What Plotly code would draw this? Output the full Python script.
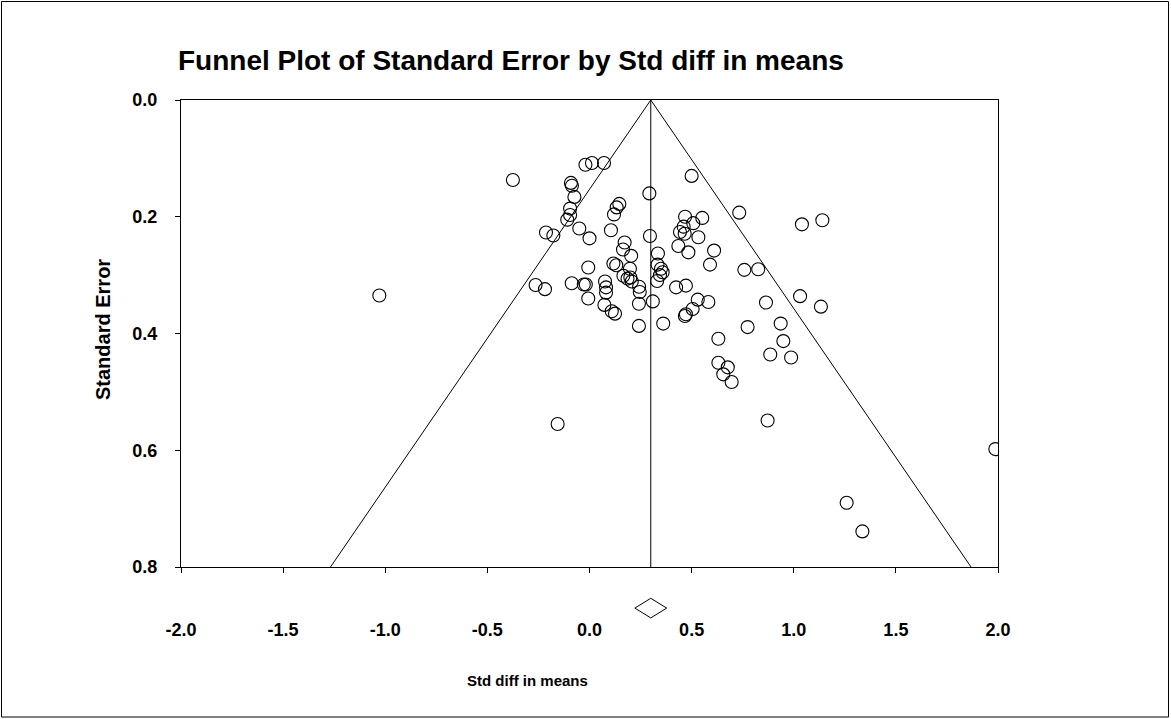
import plotly.graph_objects as go

# ---- data ----
std_diff = [
    -0.375, -0.020, 0.012, 0.071, -0.091, -0.086, -0.074, -0.095, -0.095, -0.109,
    -0.050, 0.000, -0.213, -0.177, 0.146, 0.133, 0.120, 0.105, 0.293, 0.296,
    0.500, 0.172, 0.164, 0.204, 0.117, 0.131, 0.198, 0.166, 0.186, 0.200,
    0.207, -0.006, -0.087, -0.028, -0.018, 0.076, 0.081, 0.081, -0.006, 0.073,
    0.109, 0.125, 0.243, 0.246, 0.242, 0.310, 0.242, 0.361, 0.335, 0.333,
    0.350, 0.358, 0.345, 0.331, 0.424, 0.472, 0.468, 0.552, 0.508, 0.461,
    0.443, 0.466, 0.533, 0.435, 0.484, 0.610, 0.590, 0.733, 1.040, 1.140,
    0.758, 0.826, 0.530, 0.582, 0.505, 0.472, 0.467, 0.631, 0.774, 0.864,
    0.936, 0.949, 1.031, 1.133, 0.885, 0.987, 0.631, 0.677, 0.655, 0.696,
    0.872, 1.259, 1.336, 1.987, -1.029, -0.156, -0.264, -0.218,
]
std_err = [
    0.137, 0.111, 0.108, 0.108, 0.142, 0.147, 0.166, 0.186, 0.197, 0.205,
    0.220, 0.237, 0.227, 0.232, 0.178, 0.184, 0.196, 0.223, 0.160, 0.233,
    0.130, 0.244, 0.256, 0.267, 0.280, 0.283, 0.289, 0.301, 0.306, 0.304,
    0.311, 0.287, 0.314, 0.316, 0.316, 0.311, 0.321, 0.330, 0.340, 0.351,
    0.362, 0.366, 0.320, 0.329, 0.349, 0.345, 0.387, 0.383, 0.263, 0.282,
    0.289, 0.295, 0.300, 0.310, 0.321, 0.318, 0.200, 0.202, 0.211, 0.217,
    0.226, 0.229, 0.235, 0.250, 0.261, 0.258, 0.282, 0.193, 0.213, 0.206,
    0.291, 0.290, 0.342, 0.346, 0.358, 0.367, 0.370, 0.409, 0.389, 0.347,
    0.383, 0.413, 0.336, 0.354, 0.436, 0.441, 0.450, 0.458, 0.470, 0.483,
    0.549, 0.690, 0.739, 0.598, 0.335, 0.555, 0.317, 0.324,
]
mean_effect = 0.30          # summary estimate (diamond / centre line)
funnel_se = [0.0, 0.8]      # standard-error span of the funnel
z_crit = 1.96

x_tick_vals = [-2.0, -1.5, -1.0, -0.5, 0.0, 0.5, 1.0, 1.5, 2.0]
y_tick_vals = [0.0, 0.2, 0.4, 0.6, 0.8]
x_tick_text = [f"{v:.1f}" for v in x_tick_vals]
y_tick_text = [f"{v:.1f}" for v in y_tick_vals]

title_text = "Funnel Plot of Standard Error by Std diff in means"
x_title = "Std diff in means"
y_title = "Standard Error"

# ---- figure ----
W, H = 1171, 719
L, R, T, B = 181, 173, 100, 152
FONT = "Liberation Sans, Arial, sans-serif"

fig = go.Figure()

se_top, se_bot = funnel_se
fig.add_trace(go.Scatter(
    x=[mean_effect - z_crit * se_bot, mean_effect, mean_effect + z_crit * se_bot],
    y=[se_bot, se_top, se_bot],
    mode="lines", line=dict(color="black", width=1), hoverinfo="skip", showlegend=False))
fig.add_trace(go.Scatter(
    x=[mean_effect, mean_effect], y=[se_top, se_bot],
    mode="lines", line=dict(color="black", width=1), hoverinfo="skip", showlegend=False))

fig.add_trace(go.Scatter(
    x=std_diff, y=std_err, mode="markers",
    marker=dict(symbol="circle-open", size=13, color="black", line=dict(width=1.1)),
    showlegend=False))

# summary diamond below the axis (x in data units, y in paper units)
dh, dcy, dhh = 0.078, -0.088, 0.021
fig.add_shape(
    type="path", xref="x", yref="paper",
    path=(f"M{mean_effect - dh},{dcy} L{mean_effect},{dcy + dhh} "
          f"L{mean_effect + dh},{dcy} L{mean_effect},{dcy - dhh} Z"),
    line=dict(color="black", width=1), fillcolor="white")

# outer frame of the picture
pw, ph = W - L - R, H - T - B
def px_x(p): return (p - L) / pw
def px_y(p): return (H - B - p) / ph
fig.add_shape(type="rect", xref="paper", yref="paper",
              x0=px_x(1.5), x1=px_x(1168.5), y0=px_y(717), y1=px_y(1.5),
              line=dict(color="black", width=1))

fig.add_annotation(text=y_title, xref="paper", yref="paper",
                   x=px_x(103), y=px_y(330), xanchor="center", yanchor="middle",
                   textangle=-90, showarrow=False,
                   font=dict(family=FONT, size=20, color="black", weight="bold"))
fig.add_annotation(text=x_title, xref="paper", yref="paper",
                   x=px_x(527), y=px_y(680), xanchor="center", yanchor="middle",
                   showarrow=False,
                   font=dict(family=FONT, size=15, color="black", weight="bold"))

fig.update_layout(
    width=W, height=H,
    margin=dict(l=L, r=R, t=T, b=B),
    paper_bgcolor="white", plot_bgcolor="white",
    title=dict(text=title_text, x=178 / W, xref="container", xanchor="left",
               y=1 - 60 / H, yref="container", yanchor="middle",
               font=dict(family=FONT, size=28, color="black", weight="bold")),
    font=dict(family=FONT, color="black"),
)
fig.update_xaxes(range=[-2.0, 2.0], tickvals=x_tick_vals, ticktext=x_tick_text,
                 showgrid=False, zeroline=False, showline=True, linecolor="black",
                 linewidth=1, mirror=True, ticks="outside", ticklen=5, tickcolor="black",
                 ticklabelstandoff=41,
                 tickfont=dict(family=FONT, size=18, color="black", weight="bold"))
fig.update_yaxes(range=[0.8, 0.0], tickvals=y_tick_vals, ticktext=y_tick_text,
                 showgrid=False, zeroline=False, showline=True, linecolor="black",
                 linewidth=1, mirror=True, ticks="outside", ticklen=5, tickcolor="black",
                 ticklabelstandoff=14,
                 tickfont=dict(family=FONT, size=18, color="black", weight="bold"))

fig.write_html("out.html", config={"displayModeBar": False},
               post_script="document.body.style.margin='0';")
